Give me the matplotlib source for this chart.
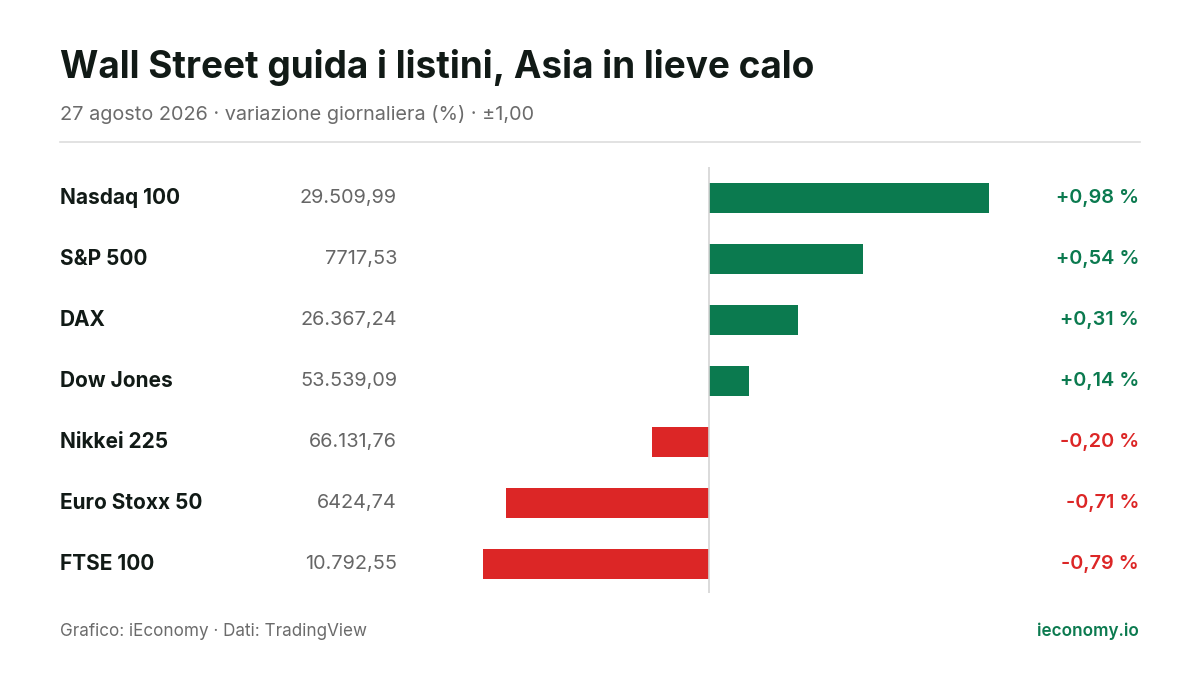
import matplotlib
matplotlib.use("Agg")
import matplotlib.pyplot as plt
import matplotlib.transforms as mtransforms

plt.rcParams['font.family'] = ['Inter', 'DejaVu Sans']

names = ["Nasdaq 100", "S&P 500", "DAX", "Dow Jones", "Nikkei 225", "Euro Stoxx 50", "FTSE 100"]
levels = ["29.509,99", "7717,53", "26.367,24", "53.539,09", "66.131,76", "6424,74", "10.792,55"]
changes = [0.98, 0.54, 0.31, 0.14, -0.20, -0.71, -0.79]
change_labels = ["+0,98 %", "+0,54 %", "+0,31 %", "+0,14 %", "-0,20 %", "-0,71 %", "-0,79 %"]

GREEN = "#0b7a4f"
RED = "#dc2626"
W, H = 1200, 675
fig = plt.figure(figsize=(12, 6.75), dpi=100)
fig.patch.set_facecolor("white")

def fx(px): return px / W
def fy(py): return 1 - py / H

fig.text(fx(60), fy(68), "Wall Street guida i listini, Asia in lieve calo", fontsize=26.6,
         fontweight="bold", color="#111a16", va="center", ha="left")
fig.text(fx(60), fy(114), "27 agosto 2026 · variazione giornaliera (%) · ±1,00", fontsize=14.3,
         color="#6b6b6b", va="center", ha="left")
fig.add_artist(plt.Line2D([fx(60), fx(1140)], [fy(142), fy(142)], color="#dddddd", lw=1.2))

ax = fig.add_axes([fx(423), fy(593), fx(995) - fx(423), fy(167) - fy(593)])
ax.set_xlim(-1, 1)
ax.set_ylim(6.475, -0.508)
ax.axis("off")
ys = list(range(len(names)))
cols = [GREEN if c >= 0 else RED for c in changes]
ax.barh(ys, changes, height=0.49, color=cols)
ax.axvline(0, color="#d4d4d4", lw=1.2)

tr = mtransforms.blended_transform_factory(fig.transFigure, ax.transData)
for i, (n, l, c, cl) in enumerate(zip(names, levels, changes, change_labels)):
    ax.text(fx(60), i, n, transform=tr, fontsize=15, fontweight="bold", color="#111a16",
            va="center", ha="left")
    ax.text(fx(397), i, l, transform=tr, fontsize=14.3, color="#666666", va="center", ha="right")
    ax.text(fx(1139), i, cl, transform=tr, fontsize=14.3, fontweight="semibold",
            color=GREEN if c >= 0 else RED, va="center", ha="right")

fig.text(fx(60), fy(631), "Grafico: iEconomy · Dati: TradingView", fontsize=12.3,
         color="#6b6b6b", va="center", ha="left")
fig.text(fx(1139), fy(631), "ieconomy.io", fontsize=12.3, fontweight="semibold",
         color=GREEN, va="center", ha="right")

fig.savefig("out.png", dpi=100)
